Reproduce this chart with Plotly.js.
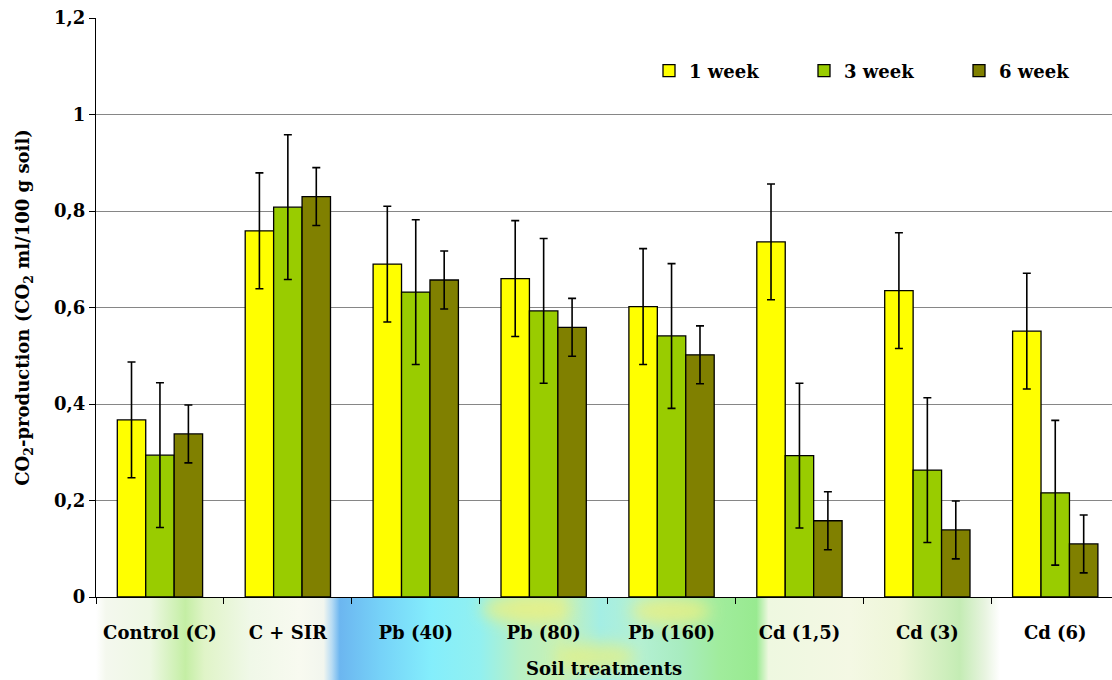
<!DOCTYPE html>
<html><head><meta charset="utf-8">
<script src="https://cdn.plot.ly/plotly-3.0.1.min.js"></script>
<style>html,body{margin:0;padding:0;background:#fff;overflow:hidden}#chart{width:1112px;height:680px}</style>
</head><body><div id="chart"></div><script>
// ---- data ----
const categories = ["Control (C)", "C + SIR", "Pb (40)", "Pb (80)", "Pb (160)", "Cd (1,5)", "Cd (3)", "Cd (6)"];
const seriesNames = ["1 week", "3 week", "6 week"];
const week1 = [0.367, 0.759, 0.690, 0.660, 0.602, 0.736, 0.635, 0.551];
const week3 = [0.294, 0.808, 0.632, 0.593, 0.541, 0.293, 0.263, 0.216];
const week6 = [0.338, 0.830, 0.657, 0.559, 0.502, 0.158, 0.139, 0.110];
const err1 = [0.12, 0.12, 0.12, 0.12, 0.12, 0.12, 0.12, 0.12];
const err3 = [0.15, 0.15, 0.15, 0.15, 0.15, 0.15, 0.15, 0.15];
const err6 = [0.06, 0.06, 0.06, 0.06, 0.06, 0.06, 0.06, 0.06];
const yTickVals = [0, 0.2, 0.4, 0.6, 0.8, 1, 1.2];
const yTickText = ["0", "0,2", "0,4", "0,6", "0,8", "1", "1,2"];

// ---- styles ----
const colors = ["#FFFF00", "#99CC00", "#808000"];
const FONT = "DejaVu Serif";

const values = [week1, week3, week6];
const errs = [err1, err3, err6];
const traces = values.map((v, i) => ({
  type: "bar",
  name: seriesNames[i],
  x: categories,
  y: v,
  marker: {color: colors[i], line: {color: "#000", width: 1.3}},
  error_y: {type: "data", array: errs[i], visible: true, color: "#000", thickness: 1.6, width: 4}
}));

// decorative background strip below the axis
const bgSvg = `<svg xmlns='http://www.w3.org/2000/svg' width='1016' height='83' viewBox='0 0 1016 83' preserveAspectRatio='none'>
<defs>
<linearGradient id='g' x1='0' x2='1' y1='0' y2='0'>
<stop offset='0' stop-color='#ffffff'/>
<stop offset='0.01' stop-color='#f4f8ee'/>
<stop offset='0.053' stop-color='#eef8e4'/>
<stop offset='0.088' stop-color='#c4eea4'/>
<stop offset='0.107' stop-color='#e0f4c8'/>
<stop offset='0.152' stop-color='#f0f8e8'/>
<stop offset='0.20' stop-color='#f8faf0'/>
<stop offset='0.224' stop-color='#f2f6ee'/>
<stop offset='0.232' stop-color='#b8dcf4'/>
<stop offset='0.240' stop-color='#6cb6f0'/>
<stop offset='0.28' stop-color='#76d2f8'/>
<stop offset='0.33' stop-color='#84eefc'/>
<stop offset='0.378' stop-color='#92f0f0'/>
<stop offset='0.417' stop-color='#b8f0c4'/>
<stop offset='0.457' stop-color='#c8f0b4'/>
<stop offset='0.496' stop-color='#a4eee4'/>
<stop offset='0.535' stop-color='#b4f0d4'/>
<stop offset='0.575' stop-color='#a8ecc0'/>
<stop offset='0.614' stop-color='#a0ec9c'/>
<stop offset='0.650' stop-color='#98ea90'/>
<stop offset='0.662' stop-color='#eef8e0'/>
<stop offset='0.742' stop-color='#f4f8e4'/>
<stop offset='0.79' stop-color='#eef6d8'/>
<stop offset='0.85' stop-color='#c4ecb4'/>
<stop offset='0.875' stop-color='#e8f4e0'/>
<stop offset='0.89' stop-color='#ffffff'/>
<stop offset='1' stop-color='#ffffff'/>
</linearGradient>
<filter id='b'><feGaussianBlur stdDeviation='8'/></filter>
</defs>
<rect width='1016' height='83' fill='url(#g)'/>
<g filter='url(#b)' opacity='0.75'>
<ellipse cx='430' cy='12' rx='45' ry='14' fill='#f0f07a'/>
<ellipse cx='575' cy='14' rx='40' ry='14' fill='#f0f07a'/>
<ellipse cx='500' cy='60' rx='40' ry='14' fill='#e8f080'/>
</g>
</svg>`;
const bgUri = "data:image/svg+xml;charset=utf-8," + encodeURIComponent(bgSvg);

const plotW = 1016, plotH = 579;
const layout = {
  width: 1112, height: 680,
  margin: {l: 96, r: 0, t: 18, b: 83, autoexpand: false},
  paper_bgcolor: "#ffffff",
  plot_bgcolor: "rgba(0,0,0,0)",
  font: {family: FONT, size: 18, color: "#000", weight: "bold"},
  barmode: "group",
  bargap: 0.333,
  bargroupgap: 0,
  showlegend: true,
  legend: {
    orientation: "h",
    x: (649 - 96) / plotW, y: (597 - 71) / plotH,
    xanchor: "left", yanchor: "middle",
    font: {family: FONT, size: 18, weight: "bold"},
    bgcolor: "rgba(0,0,0,0)",
    entrywidth: 110,
    traceorder: "normal"
  },
  xaxis: {
    type: "category",
    range: [-0.5, -0.5 + plotW / 127.9],
    showline: true, linecolor: "#000", linewidth: 1,
    ticks: "outside", tickson: "boundaries", ticklen: 6, tickcolor: "#000", tickwidth: 1,
    showgrid: false, zeroline: false,
    ticklabelstandoff: 19,
    tickfont: {family: FONT, size: 18, weight: "bold"},
    title: {text: "Soil treatments", font: {family: FONT, size: 18, weight: "bold"}, standoff: 20}
  },
  yaxis: {
    range: [0, 1.2],
    tickmode: "array", tickvals: yTickVals, ticktext: yTickText,
    showline: true, linecolor: "#000", linewidth: 1,
    ticks: "outside", ticklen: 6, tickcolor: "#000", tickwidth: 1,
    showgrid: true, gridcolor: "#868686", gridwidth: 1,
    zeroline: false,
    tickfont: {family: FONT, size: 18, weight: "bold"},
    title: {text: "CO<sub>2</sub>-production (CO<sub>2</sub> ml/100 g soil)", font: {family: FONT, size: 18, weight: "bold"}, standoff: 19}
  },
  images: [{
    source: bgUri, xref: "paper", yref: "paper",
    x: 0, y: 0, sizex: 1, sizey: 83 / plotH,
    xanchor: "left", yanchor: "top", sizing: "stretch", layer: "below"
  }]
};

Plotly.newPlot("chart", traces, layout, {displayModeBar: false, staticPlot: true});
</script></body></html>
